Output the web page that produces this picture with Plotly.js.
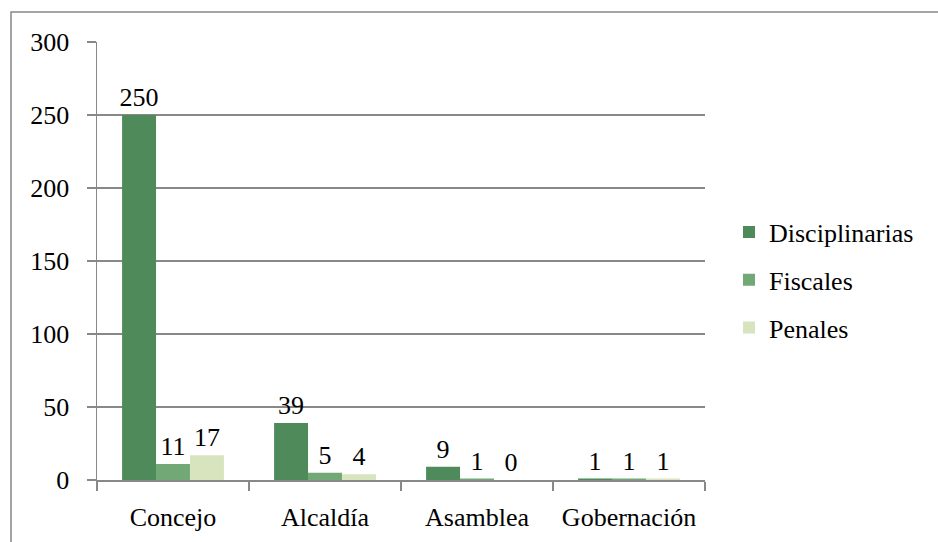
<!DOCTYPE html>
<html>
<head>
<meta charset="utf-8">
<script src="https://cdn.plot.ly/plotly-3.0.1.min.js"></script>
<style>html,body{margin:0;padding:0;background:#fff;}#chart{width:938px;height:542px;}</style>
</head>
<body>
<div id="chart"></div>
<script>
const categories = ["Concejo", "Alcaldía", "Asamblea", "Gobernación"];
const seriesNames = ["Disciplinarias", "Fiscales", "Penales"];
const disciplinarias = [250, 39, 9, 1];
const fiscales = [11, 5, 1, 1];
const penales = [17, 4, 0, 1];
const yTicks = [0, 50, 100, 150, 200, 250, 300];
const colors = ["#4F8A5B", "#71A875", "#D7E4BD"];

const font = "'Liberation Serif', 'Times New Roman', 'DejaVu Serif', serif";
const fs = 26;
const values = [disciplinarias, fiscales, penales];
const traces = values.map((v, i) => ({
  type: "bar",
  name: seriesNames[i],
  x: categories,
  y: v,
  marker: {color: colors[i], line: {width: 0}},
  text: v.map(String),
  textposition: "outside",
  constraintext: "none",
  textfont: {family: font, size: fs, color: "#000"},
  cliponaxis: false,
  legendgroup: seriesNames[i],
  hoverinfo: "none"
}));

const L = 97, R = 233, T = 42, B = 62;
const pw = 938 - L - R, ph = 542 - T - B;
const px = x => (x - L) / pw;
const py = y => (542 - B - y) / ph;

const layout = {
  width: 938, height: 542,
  margin: {l: L, r: R, t: T, b: B, pad: 0},
  paper_bgcolor: "#fff", plot_bgcolor: "#fff",
  barmode: "group",
  bargap: 0.33,
  bargroupgap: 0,
  font: {family: font, size: fs, color: "#000"},
  showlegend: true,
  legend: {
    x: px(729), y: py(280), xanchor: "left", yanchor: "middle",
    traceorder: "grouped", tracegroupgap: 11,
    font: {family: font, size: fs, color: "#000"},
    itemwidth: 30, bgcolor: "rgba(0,0,0,0)"
  },
  xaxis: {
    type: "category",
    showline: true, linecolor: "#888", linewidth: 1.5,
    ticks: "outside", tickson: "boundaries", ticklen: 9, tickcolor: "#888", tickwidth: 1.5,
    tickfont: {family: font, size: fs, color: "#000"},
    ticklabelstandoff: 13,
    showgrid: false, zeroline: false, fixedrange: true
  },
  yaxis: {
    range: [0, 300],
    tickvals: yTicks, ticktext: yTicks.map(String),
    showline: true, linecolor: "#888", linewidth: 1.5,
    ticks: "outside", ticklen: 9, tickcolor: "#888", tickwidth: 1.5,
    showgrid: true, gridcolor: "#888", gridwidth: 1.5,
    zeroline: false,
    tickfont: {family: font, size: fs, color: "#000"},
    ticklabelstandoff: 12,
    fixedrange: true
  },
  shapes: [{
    type: "rect", xref: "paper", yref: "paper",
    x0: px(11), x1: px(945), y0: py(548), y1: py(12),
    line: {color: "#888", width: 1.5}, fillcolor: "rgba(0,0,0,0)", layer: "below"
  }]
};

Plotly.newPlot("chart", traces, layout, {staticPlot: true, displayModeBar: false});
</script>
</body>
</html>
